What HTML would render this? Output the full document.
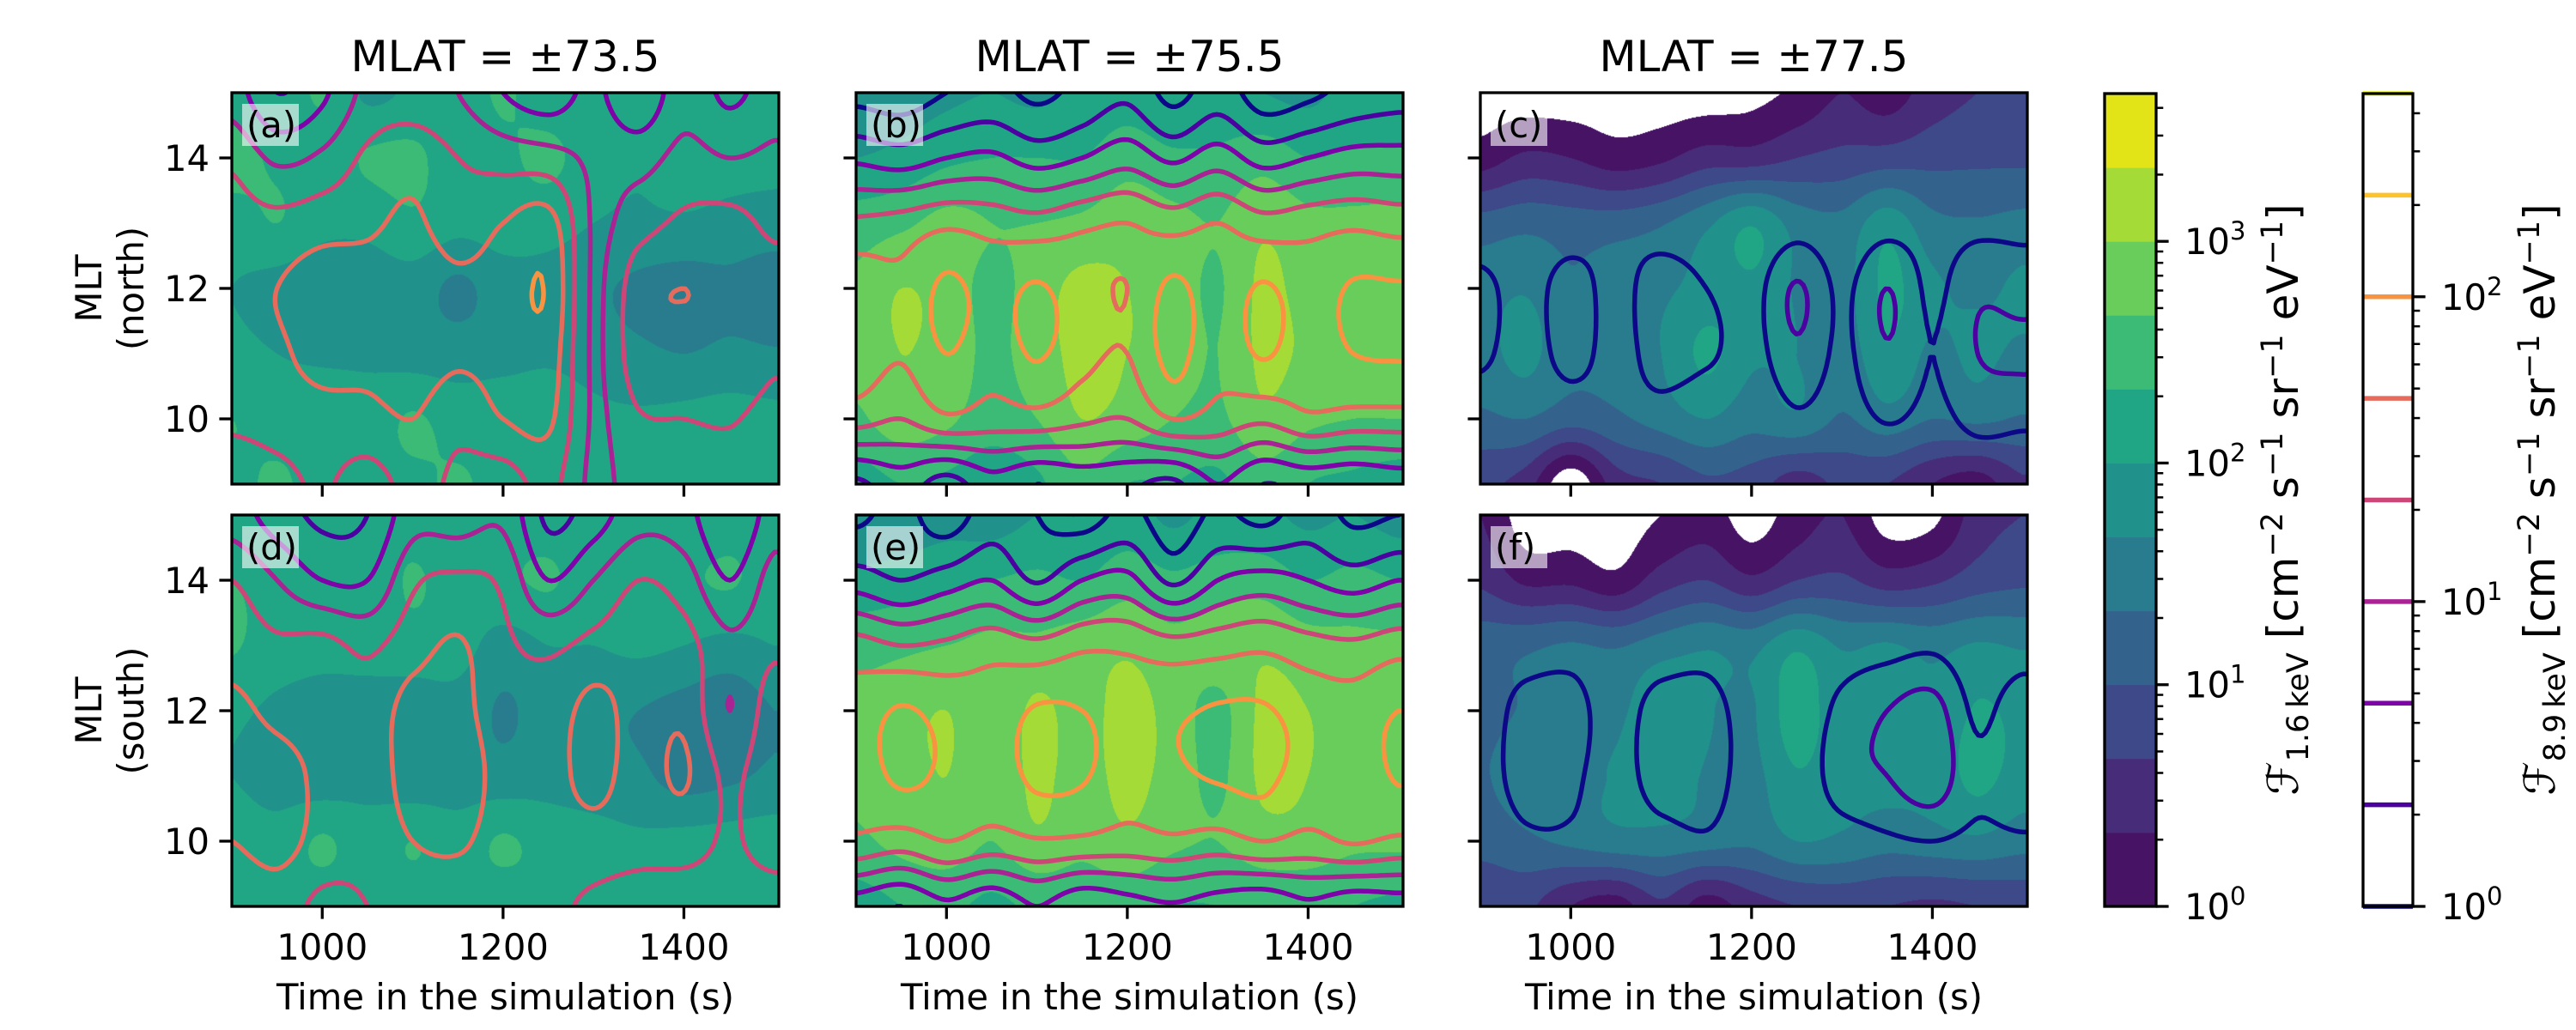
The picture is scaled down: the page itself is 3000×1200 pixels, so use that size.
<!DOCTYPE html>
<html><head><meta charset="utf-8">
<style>
html,body{margin:0;padding:0;background:#fff;}
#root{position:relative;width:3000px;height:1200px;overflow:hidden;background:#fff;font-family:"DejaVu Sans","Liberation Sans",sans-serif;}
canvas{position:absolute;}
svg{position:absolute;left:0;top:0;}
</style></head>
<body>
<div id="root">
<svg id="svg" width="3000" height="1200" viewBox="0 0 3000 1200" font-family="DejaVu Sans, Liberation Sans, sans-serif"></svg>
</div>
<script>
// ---------- data ----------
const times = [900,950,1000,1050,1100,1150,1200,1250,1300,1350,1400,1450,1500];
const mltRows = [15,14,13,12,11,10,9];
const panelLabels = ["(a)","(b)","(c)","(d)","(e)","(f)"];
const colTitles = ["MLAT = \u00b173.5","MLAT = \u00b175.5","MLAT = \u00b177.5"];
const xTicks = [1000,1200,1400];
const yTicks = [10,12,14];
const cb1Ticks = [0,1,2,3];
const cb2Ticks = [0,1,2];
// low-energy flux, in units of 3*log10(F) (band index)
const fillA = [
[6.5,6.3,7.1,5.8,6.2,6.5,7.1,6.5,6.5,7.0,6.2,6.3,6.0],
[7.4,6.8,6.5,7.1,7.2,6.5,6.8,7.2,6.5,6.2,6.8,6.5,6.3],
[6.5,7.0,6.3,6.3,6.8,6.3,6.5,6.4,6.0,5.8,5.8,5.6,5.5],
[6.0,5.6,5.3,5.4,5.5,4.8,5.5,5.6,5.2,4.8,4.6,4.8,4.5],
[6.3,6.0,5.8,5.8,5.6,5.5,5.6,5.8,5.5,5.2,5.0,5.2,5.1],
[7.0,6.7,6.8,6.5,7.1,6.6,6.8,6.8,6.3,6.2,6.3,6.5,6.3],
[6.8,7.1,6.7,6.6,6.8,7.1,6.7,6.7,6.5,7.0,6.5,7.0,6.5]];
const fillB = [
[5.3,5.5,5.8,6.0,5.8,6.2,6.5,6.0,6.3,6.0,5.8,6.3,6.3],
[6.0,6.3,6.8,7.0,7.0,7.0,7.6,7.2,7.2,7.6,7.0,7.2,7.2],
[7.5,7.8,8.3,8.0,8.0,8.2,8.6,8.3,8.0,8.8,8.3,8.2,8.3],
[8.2,9.0,8.6,7.7,8.5,9.3,9.0,8.5,7.9,9.2,8.6,8.3,8.5],
[8.3,9.0,8.6,7.8,8.5,9.3,9.0,8.5,8.0,9.2,8.8,8.4,8.5],
[7.8,8.6,8.2,7.5,8.0,9.0,8.6,8.0,7.8,8.8,8.2,8.0,8.0],
[6.5,7.0,6.8,6.3,6.8,7.8,7.0,7.0,6.8,7.6,7.0,6.8,6.5]];
const fillC = [
[-0.5,-0.5,-0.5,-0.5,-0.5,-0.5,-0.3,0.2,1.0,0.5,1.5,2.0,2.0],
[0.5,1.2,1.0,0.5,0.8,1.5,1.5,2.0,2.3,2.5,2.7,2.8,2.8],
[3.4,3.7,3.5,3.5,3.9,4.8,5.9,4.6,4.3,5.6,4.3,4.1,4.3],
[4.6,4.9,4.1,4.6,4.8,5.4,5.8,4.9,4.6,6.2,5.2,4.8,5.2],
[4.6,5.3,4.2,4.4,5.0,6.2,5.2,5.0,4.4,5.8,4.8,5.2,4.8],
[3.8,4.0,3.4,3.8,4.4,5.0,4.4,4.8,3.9,4.6,4.0,4.2,3.9],
[2.2,1.5,-0.8,1.5,2.0,2.8,2.5,1.5,2.2,2.0,1.0,0.5,1.8]];
const fillD = [
[6.3,6.2,6.5,6.8,6.5,6.2,6.5,6.5,6.2,6.5,6.2,6.5,6.5],
[7.0,6.6,6.5,6.3,7.1,6.5,6.8,7.1,6.5,6.5,6.8,7.1,6.5],
[7.1,6.5,6.3,6.5,6.6,6.4,5.6,6.0,6.0,6.2,6.0,5.7,6.0],
[6.2,5.8,5.6,5.4,5.4,5.6,4.9,5.4,5.2,5.0,4.6,4.3,5.0],
[6.0,5.6,5.4,5.6,5.3,5.5,5.4,5.6,5.4,5.2,4.6,4.8,5.2],
[6.5,6.4,7.1,6.5,7.0,6.5,7.1,6.6,6.4,6.2,6.3,6.4,6.5],
[6.5,6.8,6.5,6.6,6.5,6.8,6.5,6.8,6.5,6.8,6.5,6.5,6.6]];
const fillE = [
[5.0,5.3,5.6,5.5,6.0,6.0,6.4,5.8,6.3,6.2,5.8,6.0,5.6],
[6.3,6.5,6.8,7.0,7.2,7.0,7.6,7.2,7.5,7.6,7.0,7.3,7.0],
[7.6,7.8,8.0,8.2,8.2,8.5,8.8,8.3,8.5,8.8,8.4,8.2,8.2],
[8.3,8.6,9.0,8.2,9.2,8.6,9.4,8.6,7.7,9.2,9.0,8.4,8.5],
[8.2,8.6,9.0,8.3,9.2,8.6,9.3,8.6,7.8,9.2,9.0,8.4,8.5],
[7.8,8.3,8.6,8.0,8.8,8.3,8.8,8.2,8.0,8.6,8.6,8.2,8.2],
[6.5,7.0,7.2,6.8,7.2,7.3,7.4,7.0,7.0,7.2,7.2,7.0,6.8]];
const fillF = [
[1.0,-0.5,-0.5,-0.5,0.0,0.5,-0.5,0.5,1.0,-0.5,-0.3,1.5,2.0],
[1.8,0.8,0.8,0.3,1.5,2.0,1.2,2.0,2.2,1.5,1.8,2.5,2.8],
[3.6,3.8,4.1,3.9,4.5,4.9,4.7,5.8,4.9,5.1,4.7,5.1,4.9],
[3.7,4.1,4.5,4.7,5.9,5.1,4.9,6.5,5.3,5.3,5.1,6.1,5.7],
[3.9,4.5,4.7,5.1,5.7,4.9,4.7,5.9,5.3,5.3,5.3,6.3,5.5],
[3.4,3.8,4.2,4.6,4.6,4.4,4.2,5.0,4.8,4.4,4.6,4.8,4.4],
[2.0,2.2,1.0,0.5,1.8,0.5,1.5,2.0,2.2,2.0,1.8,2.0,2.2]];
// high-energy flux, in units of 3*log10(F) (contour level index)
const lineA = [
[2.5,1.0,1.8,3.3,3.5,3.0,2.0,1.5,2.2,1.2,2.6,1.8,2.5],
[3.8,2.8,3.2,4.2,4.6,4.0,3.6,3.4,2.8,2.6,3.3,3.0,3.2],
[4.4,4.3,4.6,4.8,5.2,4.4,5.0,5.4,2.9,3.6,4.2,4.3,3.8],
[4.6,5.0,5.5,5.5,5.8,5.3,5.5,5.9,2.9,4.6,5.0,4.6,4.4],
[4.5,4.8,5.4,5.3,5.6,5.2,5.4,5.6,2.9,4.6,4.6,4.8,4.2],
[4.2,4.4,4.6,4.7,5.0,4.3,5.0,5.2,2.9,3.9,4.0,4.1,3.6],
[3.3,3.7,4.1,3.6,4.3,3.8,3.5,4.3,2.8,3.4,3.0,3.4,3.0]];
const lineB = [
[-0.3,-0.5,0.0,0.3,-0.2,0.3,0.8,-0.3,0.5,-0.5,-0.2,0.3,0.6],
[1.8,1.5,2.0,2.2,1.6,2.0,2.6,1.8,2.5,1.6,2.0,2.4,2.4],
[4.2,4.4,4.8,4.6,4.4,4.8,5.0,4.6,5.0,4.4,4.6,4.8,4.6],
[5.6,5.2,6.2,5.6,6.1,5.4,5.0,6.2,5.4,6.1,5.5,6.1,6.1],
[5.6,5.1,6.0,5.4,6.1,5.3,5.0,6.3,5.3,6.1,5.4,6.0,6.1],
[4.4,4.0,4.8,4.5,4.6,4.2,4.0,5.0,4.6,4.2,4.8,4.6,4.6],
[0.8,1.5,0.6,1.6,1.0,1.4,1.2,0.8,2.0,1.0,1.3,1.1,1.4]];
const lineC = [
[-2,-2,-2,-2,-2,-2,-2,-2,-2,-2,-2,-2,-2],
[-1.5,-1.5,-1.5,-1.5,-1.5,-1.5,-1.5,-1.5,-1.5,-1.5,-1.2,-1,-1],
[-1,-1,-0.8,-0.5,-0.8,-1,-1,-0.5,-0.8,-0.4,-0.5,-0.3,-0.3],
[0.4,-0.6,0.6,-0.5,0.8,0.0,-0.4,1.1,-0.2,1.0,-0.2,0.8,0.6],
[0.3,-0.7,0.5,-0.5,0.6,0.2,-0.4,0.8,-0.2,0.9,0.0,1.0,1.2],
[-1,-1,-0.8,-0.6,-0.5,-1,-1,-0.2,-0.6,0.1,-0.3,0.3,0.2],
[-1.5,-1.5,-1.5,-1.5,-1.5,-1.5,-1.5,-1.5,-1.5,-1.5,-1.2,-0.8,-0.8]];
const lineD = [
[2.5,1.5,0.8,1.0,2.6,2.5,2.8,0.8,1.5,2.6,2.4,1.0,2.5],
[4.0,3.0,2.0,2.0,3.8,4.2,3.8,2.0,3.0,4.0,3.5,2.0,3.4],
[4.6,4.2,4.3,3.8,4.6,5.1,4.2,3.8,4.3,4.6,4.4,3.2,3.8],
[5.2,4.8,4.6,4.4,5.4,5.4,4.3,4.4,5.3,4.6,4.8,3.0,4.6],
[5.2,5.3,4.8,4.4,5.5,5.8,4.5,4.6,5.3,4.6,5.1,3.8,4.8],
[5.0,5.4,4.6,4.3,5.0,5.2,4.4,4.5,4.6,4.4,4.4,3.9,4.4],
[4.0,4.4,3.8,4.0,4.3,4.2,4.0,4.2,3.8,3.5,3.5,3.6,3.6]];
const lineE = [
[-0.2,0.3,-0.5,0.5,0.0,-0.5,0.3,-0.6,0.2,-0.3,0.5,-0.2,0.0],
[1.5,1.0,1.5,2.0,0.9,2.0,2.3,0.8,2.0,2.4,2.0,1.5,2.0],
[4.4,4.0,4.2,4.6,4.3,4.8,4.8,4.4,4.6,4.8,4.4,4.2,4.6],
[5.4,6.1,5.6,5.4,6.1,6.0,5.5,5.8,6.1,6.1,5.6,5.4,6.0],
[5.4,6.2,5.8,5.5,6.2,6.1,5.4,5.8,6.1,6.2,5.6,5.4,6.1],
[4.8,4.5,5.0,4.6,4.9,4.8,4.6,4.8,4.6,5.0,4.7,5.1,4.8],
[1.5,1.0,1.8,1.2,2.0,1.2,1.6,1.9,1.5,1.2,1.8,1.3,1.5]];
const lineF = [
[-2,-2,-2,-2,-2,-2,-2,-2,-2,-2,-2,-2,-2],
[-1.5,-1.5,-1.5,-1.5,-1.5,-1.5,-1.5,-1.5,-1.5,-1.5,-1.5,-1.5,-1.5],
[-1,-0.8,-0.5,-1,-0.8,-0.5,-1,-1,-0.6,-0.4,-0.2,-0.8,-0.6],
[-1,0.6,0.5,-0.6,0.6,0.5,-0.6,-0.8,0.3,1.0,1.4,-0.2,0.7],
[-1,0.8,0.3,-0.6,0.7,0.6,-0.6,-0.8,0.6,1.0,1.6,0.2,0.9],
[-1.5,-0.4,-0.3,-1,-0.6,-0.2,-1,-1,-0.6,-0.2,0.0,-0.3,-0.2],
[-2,-2,-2,-2,-2,-2,-2,-2,-2,-2,-2,-2,-2]];
const fillGrids = [fillA,fillB,fillC,fillD,fillE,fillF];
const lineGrids = [lineA,lineB,lineC,lineD,lineE,lineF];

// ---------- styles / layout ----------
const viridis = ["#471365","#472c7a","#3e4989","#33638d","#297b8e","#21918c","#21a685","#3bbb75","#69cd5b","#a5db36","#e2e418"];
const plasma = ["#0d0887","#4c02a1","#7e03a8","#a92395","#cc4778","#e56b5d","#f89441","#fdc328","#f0f921"];
const colX = [270,997,1724];
const rowY = [108,600];
const PW = 637, PH = 456;
const T0 = 900, T1 = 1505, M0 = 9, M1 = 15;

const svg = document.getElementById('svg');
const NS = "http://www.w3.org/2000/svg";
function mk(tag, attrs, parent){
  const e = document.createElementNS(NS, tag);
  for (const k in attrs) e.setAttribute(k, attrs[k]);
  (parent||svg).appendChild(e);
  return e;
}
function hexRGB(h){return [parseInt(h.substr(1,2),16),parseInt(h.substr(3,2),16),parseInt(h.substr(5,2),16)];}
const vRGB = viridis.map(hexRGB);

function cr(p0,p1,p2,p3,t){
  return 0.5*((2*p1)+(-p0+p2)*t+(2*p0-5*p1+4*p2-p3)*t*t+(-p0+3*p1-3*p2+p3)*t*t*t);
}
function sample(g, t, m){
  let c = (t - times[0]) / (times[1]-times[0]);
  let r = (mltRows[0] - m) / (mltRows[0]-mltRows[1]);
  c = Math.max(0, Math.min(times.length-1, c));
  r = Math.max(0, Math.min(mltRows.length-1, r));
  const ci = Math.min(times.length-2, Math.floor(c)), ri = Math.min(mltRows.length-2, Math.floor(r));
  const fc = c-ci, fr = r-ri;
  const cl = i=>Math.max(0,Math.min(times.length-1,i));
  const rl = i=>Math.max(0,Math.min(mltRows.length-1,i));
  const rows = [];
  for (let j=-1;j<=2;j++){
    const row = g[rl(ri+j)];
    rows.push(cr(row[cl(ci-1)],row[cl(ci)],row[cl(ci+1)],row[cl(ci+2)],fc));
  }
  return cr(rows[0],rows[1],rows[2],rows[3],fr);
}

const edgeTable = {1:[[3,2]],2:[[2,1]],3:[[3,1]],4:[[0,1]],5:[[3,0],[2,1]],6:[[0,2]],7:[[3,0]],8:[[3,0]],9:[[0,2]],10:[[0,1],[3,2]],11:[[0,1]],12:[[3,1]],13:[[2,1]],14:[[3,2]]};

for (let p=0;p<6;p++){
  const col = p%3, row = Math.floor(p/3);
  const X = colX[col], Y = rowY[row];
  const xs = t => X + (t-T0)/(T1-T0)*PW;
  const ys = m => Y + (M1-m)/(M1-M0)*PH;
  const cv = document.createElement('canvas');
  cv.width = PW; cv.height = PH;
  cv.style.left = X+'px'; cv.style.top = Y+'px';
  
  
  document.getElementById('root').insertBefore(cv, svg);
  const ctx = cv.getContext('2d');
  const img = ctx.createImageData(PW, PH);
  const g = fillGrids[p];
  for (let py=0;py<PH;py++){
    const m = M1 - (py+0.5)/PH*(M1-M0);
    for (let px=0;px<PW;px++){
      const t = T0 + (px+0.5)/PW*(T1-T0);
      const v = sample(g,t,m);
      const o = (py*PW+px)*4;
      if (v < 0){ img.data[o]=255;img.data[o+1]=255;img.data[o+2]=255; }
      else { const k = Math.min(10, Math.floor(v)); const c = vRGB[k]; img.data[o]=c[0];img.data[o+1]=c[1];img.data[o+2]=c[2]; }
      img.data[o+3]=255;
    }
  }
  ctx.putImageData(img,0,0);

  const lg = lineGrids[p];
  const step = 4;
  const nx = Math.ceil(PW/step)+1, ny = Math.ceil(PH/step)+1;
  const px_ = i=>Math.min(i*step, PW), py_ = j=>Math.min(j*step, PH);
  const V = [];
  for (let j=0;j<ny;j++){
    const r=[]; const m = M1 - py_(j)/PH*(M1-M0);
    for (let i=0;i<nx;i++){ const t = T0 + px_(i)/PW*(T1-T0); r.push(sample(lg,t,m)); }
    V.push(r);
  }
  const grp = mk('g',{'clip-path':'url(#clip'+p+')'});
  
  
  const cp = mk('clipPath',{id:'clip'+p});
  mk('rect',{x:X,y:Y,width:PW,height:PH},cp);
  for (let L=0; L<plasma.length; L++){
    let d = "";
    for (let j=0;j<ny-1;j++) for (let i=0;i<nx-1;i++){
      const a=V[j][i], b=V[j][i+1], c=V[j+1][i+1], e=V[j+1][i];
      const idx = (a>=L?8:0)|(b>=L?4:0)|(c>=L?2:0)|(e>=L?1:0);
      const segs = edgeTable[idx]; if(!segs) continue;
      const x0=X+px_(i), x1=X+px_(i+1), y0=Y+py_(j), y1=Y+py_(j+1);
      const pt = ed=>{
        if (ed===0){const f=(L-a)/(b-a);return [x0+f*(x1-x0),y0];}
        if (ed===1){const f=(L-b)/(c-b);return [x1,y0+f*(y1-y0)];}
        if (ed===2){const f=(L-e)/(c-e);return [x0+f*(x1-x0),y1];}
        const f=(L-a)/(e-a);return [x0,y0+f*(y1-y0)];
      };
      for (const s of segs){ const P=pt(s[0]),Q=pt(s[1]); d+="M"+P[0].toFixed(1)+" "+P[1].toFixed(1)+"L"+Q[0].toFixed(1)+" "+Q[1].toFixed(1); }
    }
    if (d){
      const path = mk('path',{d:d,stroke:plasma[L],'stroke-width':5.5,fill:'none','stroke-linecap':'round','stroke-linejoin':'round'},grp);
      
      
    }
  }
  const fr = mk('rect',{x:X,y:Y,width:PW,height:PH,fill:'none',stroke:'#000','stroke-width':3.3});
  
  
  for (const t of xTicks){
    const tk = mk('line',{x1:xs(t),x2:xs(t),y1:Y+PH,y2:Y+PH+14.6,stroke:'#000','stroke-width':3.3});
    
    
    if (row===1){
      const tl = mk('text',{x:xs(t),y:1118,'font-size':41.7,'text-anchor':'middle'});
      tl.textContent = t;
      
      
    }
  }
  for (const m of yTicks){
    const tk = mk('line',{x1:X-14.6,x2:X,y1:ys(m),y2:ys(m),stroke:'#000','stroke-width':3.3});
    
    
    if (col===0){
      const tl = mk('text',{x:X-26,y:ys(m)+15,'font-size':41.7,'text-anchor':'end'});
      tl.textContent = m;
      
      
    }
  }
  const lb = mk('rect',{x:X+12,y:Y+13,width:66,height:49,fill:'#fff','fill-opacity':0.6});
  
  
  const lt = mk('text',{x:X+17,y:Y+52,'font-size':41.7});
  lt.textContent = panelLabels[p];
  
  
  if (row===1){
    const xl = mk('text',{x:X+PW/2,y:1176,'font-size':41.7,'text-anchor':'middle'});
    xl.textContent = "Time in the simulation (s)";
    
    
  } else {
    const tt = mk('text',{x:X+PW/2,y:83,'font-size':50,'text-anchor':'middle'});
    tt.textContent = colTitles[col];
    
    
  }
  if (col===0){
    const cy = Y+PH/2;
    const yl = mk('text',{transform:'translate(118,'+cy+') rotate(-90)','font-size':41.7,'text-anchor':'middle'});
    
    
    const t1 = mk('tspan',{x:0,y:0},yl); t1.textContent = "MLT";
    const t2 = mk('tspan',{x:0,y:49},yl); t2.textContent = row===0?"(north)":"(south)";
  }
}

// ---------- colorbar 1 ----------
const CB1X = 2451, CBW = 60, CBT = 109, CBB = 1056;
const cb1Decades = 11/3;
const cb1Y = d => CBB - d/cb1Decades*(CBB-CBT);
for (let k=0;k<viridis.length;k++){
  const r = mk('rect',{x:CB1X,y:cb1Y((k+1)/3),width:CBW,height:cb1Y(k/3)-cb1Y((k+1)/3)+0.5,fill:viridis[k]});
  
  
}
const cb1f = mk('rect',{x:CB1X,y:CBT,width:CBW,height:CBB-CBT,fill:'none',stroke:'#000','stroke-width':3.3});


function cbTicks(x0, yfn, maxDec, majors){
  for (let d=0; d<Math.ceil(maxDec); d++){
    for (let m=2;m<=9;m++){
      const dd = d+Math.log10(m); if (dd>maxDec) break;
      const l = mk('line',{x1:x0,x2:x0+8.3,y1:yfn(dd),y2:yfn(dd),stroke:'#000','stroke-width':2.5});
      
      
    }
  }
  for (const d of majors){
    const l = mk('line',{x1:x0,x2:x0+14.6,y1:yfn(d),y2:yfn(d),stroke:'#000','stroke-width':3.3});
    
    
    const t = mk('text',{x:x0+33,y:yfn(d)+15,'font-size':41.7});
    
    
    t.appendChild(document.createTextNode("10"));
    const s = mk('tspan',{'font-size':29,dy:-17},t); s.textContent = String(d);
  }
}
cbTicks(CB1X+CBW, cb1Y, cb1Decades, cb1Ticks);
function cbLabel(cx, sub){
  const t = mk('text',{transform:'translate('+cx+',582) rotate(-90)','font-size':50,'text-anchor':'middle'});
  
  
  const parts = [["\u2131",0],[sub,1],[" [cm",0],["\u22122",2],[" s",0],["\u22121",2],[" sr",0],["\u22121",2],[" eV",0],["\u22121",2],["]",0]];
  let prev = 0;
  for (const [txt,kind] of parts){
    const sp = mk('tspan',{},t);
    const off = kind===1?12:(kind===2?-18:0);
    sp.setAttribute('dy', off-prev); prev = off;
    if (kind) sp.setAttribute('font-size', 35);
    sp.textContent = txt;
  }
}
cbLabel(2676, "1.6\u2009keV");

// ---------- colorbar 2 ----------
const CB2X = 2752, CB2W = 58;
const cb2Decades = 8/3;
const cb2Y = d => CBB - d/cb2Decades*(CBB-CBT);
const cb2bg = mk('rect',{x:CB2X,y:CBT,width:CB2W,height:CBB-CBT,fill:'#fff'});


for (let L=0; L<plasma.length; L++){
  const y = cb2Y(L/3);
  const l = mk('line',{x1:CB2X,x2:CB2X+CB2W,y1:y,y2:y,stroke:plasma[L],'stroke-width':5.5});
  
  
}
const cb2f = mk('rect',{x:CB2X,y:CBT,width:CB2W,height:CBB-CBT,fill:'none',stroke:'#000','stroke-width':3.3});


cbTicks(CB2X+CB2W, cb2Y, cb2Decades, cb2Ticks);
cbLabel(2975, "8.9\u2009keV");
</script>
</body></html>
